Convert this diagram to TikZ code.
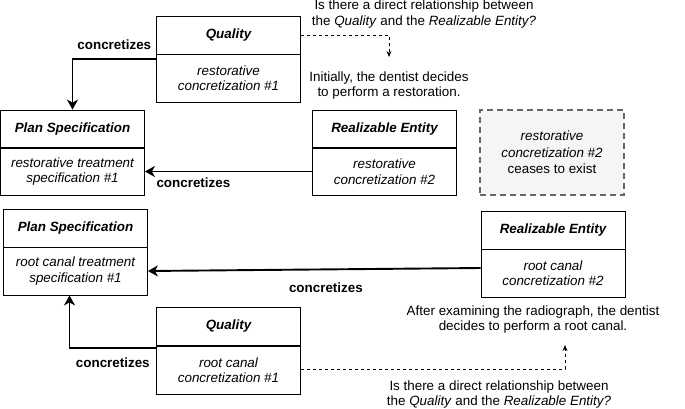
\documentclass[tikz,border=0pt]{standalone}
\usepackage{fontspec}
\setmainfont{Liberation Sans}
\usetikzlibrary{arrows.meta, positioning}
\definecolor{gonegray}{HTML}{666666}
\definecolor{gonefill}{HTML}{F5F5F5}

\begin{document}
\begin{tikzpicture}[
    x=1pt, y=1pt,
    font=\fontsize{13.4}{15.5}\selectfont,
    head/.style={draw, line width=0.8pt, minimum width=144pt, minimum height=38pt, inner sep=0pt,
        font=\fontsize{13.4}{15.5}\selectfont\bfseries\itshape},
    body/.style={draw, line width=0.8pt, minimum width=144pt, minimum height=48pt, inner sep=0pt,
        align=center, font=\fontsize{13.4}{15.5}\selectfont\itshape},
    gone/.style={draw=gonegray, fill=gonefill, line width=1.3pt, dash pattern=on 6pt off 4pt,
        minimum width=144pt, minimum height=85pt, inner sep=0pt, align=center,
        font=\fontsize{13.4}{16.5}\selectfont},
    note/.style={align=center, inner sep=0pt},
    lbl/.style={font=\fontsize{13.4}{15.5}\selectfont\bfseries, inner sep=0pt},
    conc/.style={line width=1.9pt, -{Stealth[length=10pt, width=11pt, inset=3pt]}},
    ask/.style={line width=0.7pt, dash pattern=on 3pt off 3pt, -{Stealth[length=6pt, width=5pt]}}
]
                            \useasboundingbox (0, 0) rectangle (685, -408);
                            \node[head] (q1h) at (228.5, -35) {Quality};
                            \node[body] (q1b) at (228.5, -78) {restorative\\concretization \#1};
                            \node[head] (ps1h) at (72.5, -129) {Plan Specification};
                            \node[body] (ps1b) at (72.5, -171.5) {restorative treatment\\specification \#1};
                            \node[head] (re1h) at (384.5, -129) {Realizable Entity};
                            \node[body] (re1b) at (384.5, -171.5) {restorative\\concretization \#2};
                            \node[gone] (gone) at (552, -152.5) {\textit{restorative}\\\textit{concretization \#2}\\ceases to exist};
                            \node[head] (ps2h) at (75.5, -228) {Plan Specification};
                            \node[body] (ps2b) at (75.5, -271) {root canal treatment\\specification \#1};
                            \node[head] (re2h) at (553, -230.5) {Realizable Entity};
                            \node[body] (re2b) at (553, -273) {root canal\\concretization \#2};
                            \node[head] (q2h) at (228.5, -326.5) {Quality};
                            \node[body] (q2b) at (228.5, -370) {root canal\\concretization \#1};
                            \node[note] (ask1) at (424, -14) {Is there a direct relationship between\\the \textit{Quality} and the \textit{Realizable Entity?}};
                            \node[note] (init) at (389, -85.5) {Initially, the dentist decides\\to perform a restoration.};
                            \node[note] (after) at (533, -319.5) {After examining the radiograph, the dentist\\decides to perform a root canal.};
                            \node[note] (ask2) at (499, -394.5) {Is there a direct relationship between\\the \textit{Quality} and the \textit{Realizable Entity?}};
                            \coordinate (t1) at (389, -57);
                            \coordinate (t2) at (565, -345);
                            \draw[conc] ([yshift=-5pt]q1b.north west) -| (ps1h.north)
                            node[lbl, pos=0.25, above=8pt] (c1) {concretizes};
                            \draw[conc] (re1b.west) -- (ps1b.east)
                            node[lbl, pos=0.71, below=5.5pt] (c2) {concretizes};
                            \draw[conc] ([yshift=5pt]re2b.west) -- (ps2b.east)
                            node[lbl, pos=0.465, below=12pt] (c3) {concretizes};
                            \draw[conc] ([yshift=-2pt]q2b.north west) -| ([xshift=-6pt]ps2b.south)
                            node[lbl, pos=0.25, below=9pt] (c4) {concretizes};
                            \draw[ask] (q1h.east) -| (t1);
                            \draw[ask] ([yshift=1pt]q2b.east) -| (t2);
                        \end{tikzpicture}
\end{document}
